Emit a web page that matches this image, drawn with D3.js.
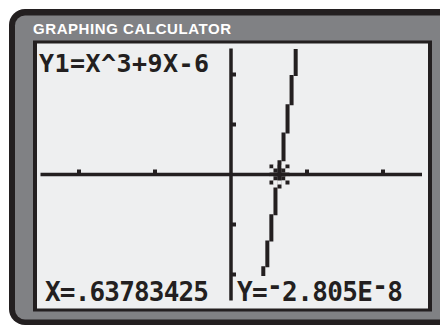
<!DOCTYPE html>
<html><head><meta charset="utf-8">
<script src="https://cdn.jsdelivr.net/npm/d3@7"></script>
<style>html,body{margin:0;padding:0;background:#fff;}svg{display:block;}</style>
</head><body>
<script>
// ---- data ----
const titleText = "GRAPHING CALCULATOR";
const equationText = "Y1=X^3+9X-6";
const xWindow = [-2.5, 2.5];
const yWindow = [-2.5, 2.5];
const xTicks = [-2, -1, 1, 2];
const yTicks = [-2, -1, 1, 2];
// plotted pixel-column samples of the curve (x, y)
const traceX = [0.372, 0.425, 0.478, 0.531, 0.585, 0.638, 0.691, 0.744, 0.797, 0.851, 0.904];
const traceY = [-2.60, -2.10, -1.59, -1.07, -0.54, 0.00, 0.55, 1.11, 1.68, 2.28, 2.88];
const cursorX = 0.63783425;
const cursorY = -2.805e-8;
const cursorXLabel = "X=.63783425";
const cursorYLabel = ["Y=", "-", "2.805E", "-", "8"];

// ---- drawing ----
const W = 440, H = 326;
const ink = "#231f20", bezel = "#808184", screenBg = "#eeeff0";
const svg = d3.select("body").append("svg").attr("width", W).attr("height", H);

// frame
svg.append("rect").attr("x", 9).attr("y", 9).attr("width", 460).attr("height", 316).attr("rx", 16).attr("fill", ink);
svg.append("rect").attr("x", 15).attr("y", 15.5).attr("width", 450).attr("height", 304).attr("rx", 10).attr("fill", bezel);
svg.append("text").attr("x", 33).attr("y", 33.5).text(titleText)
  .attr("font-family", "'Liberation Sans', Arial, sans-serif").attr("font-weight", "bold")
  .attr("font-size", 15).attr("fill", "#fff")
  .attr("textLength", 198).attr("lengthAdjust", "spacing");

// screen
svg.append("rect").attr("x", 33).attr("y", 40.5).attr("width", 399).attr("height", 271).attr("fill", ink);
svg.append("rect").attr("x", 37).attr("y", 43.5).attr("width", 391).attr("height", 265).attr("fill", screenBg);

const x = d3.scaleLinear().domain(xWindow).range([41, 421]);
const y = d3.scaleLinear().domain(yWindow).range([299.5, 49.5]);

svg.append("defs").append("clipPath").attr("id", "plot")
  .append("rect").attr("x", 37).attr("y", 49).attr("width", 391).attr("height", 259);

const g = svg.append("g");
// axes
g.append("line").attr("x1", x(xWindow[0]) - 0.5).attr("x2", x(xWindow[1]) + 1)
  .attr("y1", y(0)).attr("y2", y(0)).attr("stroke", ink).attr("stroke-width", 3.5);
g.append("line").attr("x1", x(0)).attr("x2", x(0))
  .attr("y1", y(yWindow[1]) - 1).attr("y2", y(yWindow[0]) + 1).attr("stroke", ink).attr("stroke-width", 3.5);
g.selectAll(".xt").data(xTicks).join("rect")
  .attr("x", d => x(d) - 2).attr("y", y(0) - 5).attr("width", 4).attr("height", 4).attr("fill", ink);
g.selectAll(".yt").data(yTicks).join("rect")
  .attr("x", x(0) + 1).attr("y", d => y(d) - 2).attr("width", 4).attr("height", 4).attr("fill", ink);

// curve in calculator "connected" mode: each column spans half-way to neighbours
const cols = d3.range(1, traceX.length - 1).map(i => ({
  x: traceX[i],
  top: (traceY[i] + traceY[i + 1]) / 2,
  bot: (traceY[i - 1] + traceY[i]) / 2
}));
g.append("g").attr("clip-path", "url(#plot)").selectAll("rect").data(cols).join("rect")
  .attr("x", d => x(d.x) - 2).attr("width", 4)
  .attr("y", d => y(d.top) - 0.5).attr("height", d => y(d.bot) - y(d.top) + 1)
  .attr("fill", ink);

// trace cursor
const pattern = [
  [1,0,1,0,1],
  [0,1,1,1,0],
  [1,1,1,1,1],
  [0,1,1,1,0],
  [1,0,0,0,1]];
const cells = [];
pattern.forEach((row, r) => row.forEach((v, c) => cells.push({r: r - 2, c: c - 2, v})));
const cx = x(cursorX), cy = y(cursorY);
g.selectAll(".cur").data(cells).join("rect")
  .attr("x", d => cx + d.c * 4 - 2).attr("y", d => cy + d.r * 4 - 2)
  .attr("width", 4).attr("height", 4)
  .attr("fill", d => d.v ? ink : screenBg);

// text
const mono = "'DejaVu Sans Mono', 'Liberation Mono', monospace";
svg.append("text").attr("x", 39).attr("y", 72).text(equationText)
  .attr("font-family", mono).attr("font-weight", "bold").attr("font-size", 25).attr("fill", ink)
  .attr("textLength", 170).attr("lengthAdjust", "spacing");

svg.append("text").attr("x", 45).attr("y", 300.5).text(cursorXLabel)
  .attr("font-family", mono).attr("font-weight", "bold").attr("font-size", 26).attr("fill", ink)
  .attr("textLength", 164).attr("lengthAdjust", "spacing");

svg.append("rect").attr("x", 236).attr("y", 276).attr("width", 172).attr("height", 30).attr("fill", screenBg);
const ty = svg.append("text").attr("x", 237).attr("y", 300.5)
  .attr("font-family", mono).attr("font-weight", "bold").attr("font-size", 26).attr("fill", ink)
  .attr("textLength", 166).attr("lengthAdjust", "spacing");
cursorYLabel.forEach((s, i) => {
  const t = ty.append("tspan").text(s);
  if (s === "-") t.attr("dy", -6); else if (i > 0) t.attr("dy", 6);
});
</script>
</body></html>
